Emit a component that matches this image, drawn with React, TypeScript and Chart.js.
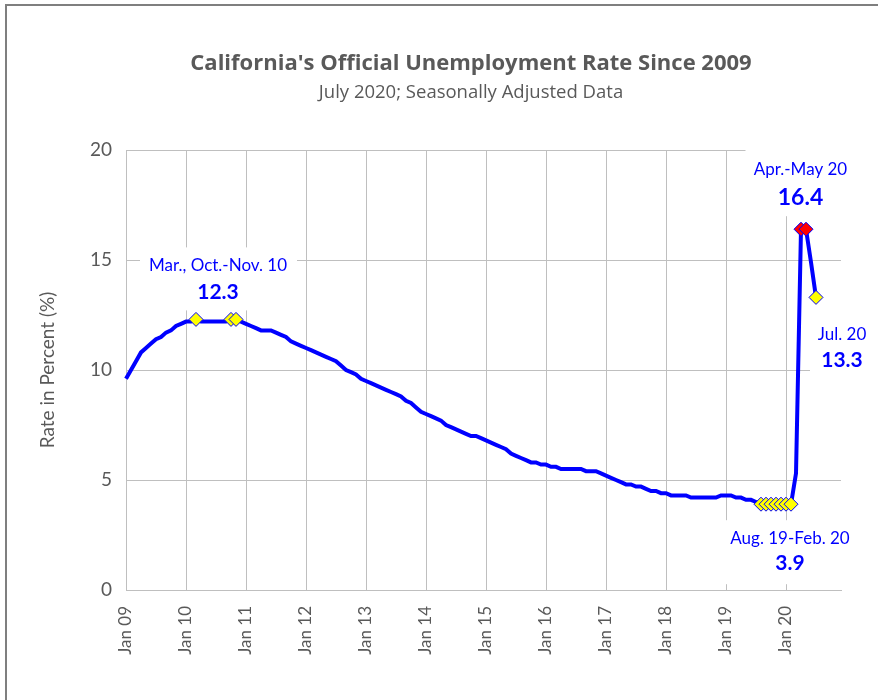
import { useEffect, useRef } from 'react';
import { Chart, registerables } from 'chart.js';

Chart.register(...registerables);

// ---------- DATA ----------
const monthNames = ['Jan', 'Feb', 'Mar', 'Apr', 'May', 'Jun', 'Jul', 'Aug', 'Sep', 'Oct', 'Nov', 'Dec'];
const yearSuffixes = ['09', '10', '11', '12', '13', '14', '15', '16', '17', '18', '19', '20'];

const rate2009 = [9.6, 10.0, 10.4, 10.8, 11.0, 11.2, 11.4, 11.5, 11.7, 11.8, 12.0, 12.1];
const rate2010 = [12.2, 12.2, 12.3, 12.2, 12.2, 12.2, 12.2, 12.2, 12.2, 12.3, 12.3, 12.2];
const rate2011 = [12.1, 12.0, 11.9, 11.8, 11.8, 11.8, 11.7, 11.6, 11.5, 11.3, 11.2, 11.1];
const rate2012 = [11.0, 10.9, 10.8, 10.7, 10.6, 10.5, 10.4, 10.2, 10.0, 9.9, 9.8, 9.6];
const rate2013 = [9.5, 9.4, 9.3, 9.2, 9.1, 9.0, 8.9, 8.8, 8.6, 8.5, 8.3, 8.1];
const rate2014 = [8.0, 7.9, 7.8, 7.7, 7.5, 7.4, 7.3, 7.2, 7.1, 7.0, 7.0, 6.9];
const rate2015 = [6.8, 6.7, 6.6, 6.5, 6.4, 6.2, 6.1, 6.0, 5.9, 5.8, 5.8, 5.7];
const rate2016 = [5.7, 5.6, 5.6, 5.5, 5.5, 5.5, 5.5, 5.5, 5.4, 5.4, 5.4, 5.3];
const rate2017 = [5.2, 5.1, 5.0, 4.9, 4.8, 4.8, 4.7, 4.7, 4.6, 4.5, 4.5, 4.4];
const rate2018 = [4.4, 4.3, 4.3, 4.3, 4.3, 4.2, 4.2, 4.2, 4.2, 4.2, 4.2, 4.3];
const rate2019 = [4.3, 4.3, 4.2, 4.2, 4.1, 4.1, 4.0, 3.9, 3.9, 3.9, 3.9, 3.9];
const rate2020 = [3.9, 3.9, 5.3, 16.4, 16.4, 14.9, 13.3, null, null, null, null, null];

const yTicks = [0, 5, 10, 15, 20];

// highlighted months (index into the monthly series) and their fill
const yellowMarkers = [14, 21, 22, 127, 128, 129, 130, 131, 132, 133, 138];
const redMarkers = [135, 136];

// annotation texts
const noteTexts = ['Mar., Oct.-Nov. 10', 'Apr.-May 20', 'Jul. 20', 'Aug. 19-Feb. 20'];
const noteValues = ['12.3', '16.4', '13.3', '3.9'];
const noteAnchorMonths = [18, 135.5, 138, 130];
const noteAnchorValues = [12.3, 16.4, 13.3, 3.9];

// ---------- STYLE / LAYOUT ----------
const FONT = 'Lato, "Open Sans", sans-serif';
const TITLE_FONT = '"Open Sans", Lato, sans-serif';
const GREY_TEXT = '#595959';
const GRID = '#bfbfbf';
const BLUE = '#0000ff';

// per note: text dx, line1 dy, line2 dy, value font size, box [x0,x1,y0,y1] relative to anchor
const noteLayout = [
  { dx: 2, dy1: -54, dy2: -27, size: 21, box: [-76, 81, -72, -9] },
  { dx: -3, dy1: -60, dy2: -32, size: 23, box: [-58, 60, -90, -13] },
  { dx: 26, dy1: 37, dy2: 63, size: 21, box: [-6, 62, 21, 81] },
  { dx: 14, dy1: 34, dy2: 59, size: 21, box: [-56, 84, 16, 80] },
];

const categories: string[] = [];
yearSuffixes.forEach((y) => monthNames.forEach((m) => categories.push(`${m} ${y}`)));
const rates = [
  ...rate2009, ...rate2010, ...rate2011, ...rate2012, ...rate2013, ...rate2014,
  ...rate2015, ...rate2016, ...rate2017, ...rate2018, ...rate2019, ...rate2020,
];

const overlayPlugin = {
  id: 'overlay',
  beforeDraw(chart: any) {
    const ctx = chart.ctx;
    ctx.save();
    ctx.fillStyle = '#ffffff';
    ctx.fillRect(0, 0, chart.width, chart.height);
    ctx.strokeStyle = '#7f7f7f';
    ctx.lineWidth = 2;
    ctx.strokeRect(6, 5, chart.width + 40, chart.height + 40);

    ctx.fillStyle = GREY_TEXT;
    ctx.textAlign = 'center';
    ctx.textBaseline = 'alphabetic';
    ctx.font = `bold 22px ${TITLE_FONT}`;
    ctx.fillText("California's Official Unemployment Rate Since 2009", 471, 70);
    ctx.font = `18.5px ${TITLE_FONT}`;
    ctx.fillText('July 2020; Seasonally Adjusted Data', 471, 98);

    ctx.translate(48, 370);
    ctx.rotate(-Math.PI / 2);
    ctx.textBaseline = 'middle';
    ctx.font = `19px ${FONT}`;
    ctx.fillText('Rate in Percent (%)', 0, 0);
    ctx.restore();
  },
  beforeDatasetsDraw(chart: any) {
    const ctx = chart.ctx;
    const xs = chart.scales.x;
    const ys = chart.scales.y;
    ctx.save();
    noteTexts.forEach((t, i) => {
      const L = noteLayout[i];
      const ax = xs.getPixelForValue(noteAnchorMonths[i]);
      const ay = ys.getPixelForValue(noteAnchorValues[i]);
      ctx.fillStyle = '#ffffff';
      ctx.fillRect(ax + L.box[0], ay + L.box[2], L.box[1] - L.box[0], L.box[3] - L.box[2]);
      ctx.fillStyle = BLUE;
      ctx.textAlign = 'center';
      ctx.textBaseline = 'middle';
      ctx.font = `17px ${FONT}`;
      ctx.fillText(t, ax + L.dx, ay + L.dy1);
      ctx.font = `bold ${L.size}px ${FONT}`;
      ctx.fillText(noteValues[i], ax + L.dx, ay + L.dy2);
    });
    ctx.restore();
  },
};

export default function App() {
  const canvasRef = useRef<HTMLCanvasElement | null>(null);

  useEffect(() => {
    document.body.style.margin = '0';
    document.body.style.overflow = 'hidden';
    const canvas = canvasRef.current;
    if (!canvas) return;

    const radii = rates.map((_, i) => (yellowMarkers.includes(i) || redMarkers.includes(i) ? 7 : 0));
    const fills = rates.map((_, i) => (redMarkers.includes(i) ? '#ff0000' : '#ffff00'));

    const chart = new Chart(canvas, {
      type: 'line',
      data: {
        labels: categories,
        datasets: [
          {
            data: rates as any,
            borderColor: BLUE,
            borderWidth: 4,
            pointStyle: 'rectRot',
            pointRadius: radii,
            pointHoverRadius: radii,
            pointBackgroundColor: fills,
            pointBorderColor: BLUE,
            pointBorderWidth: 1,
            tension: 0,
            spanGaps: false,
          },
        ],
      },
      options: {
        animation: false,
        responsive: true,
        maintainAspectRatio: false,
        layout: { padding: { top: 150, right: 37, left: 0, bottom: 0 } },
        plugins: {
          legend: { display: false },
          tooltip: { enabled: false },
          title: { display: false },
        },
        scales: {
          x: {
            type: 'category',
            offset: false,
            afterFit: (s: any) => {
              s.height = 110;
            },
            border: { display: true, color: GRID, width: 1 },
            grid: {
              drawTicks: false,
              lineWidth: 1,
              color: (c: any) => (c.index % 12 === 0 ? GRID : 'rgba(0,0,0,0)'),
            },
            ticks: {
              autoSkip: false,
              maxRotation: 90,
              minRotation: 90,
              padding: 16,
              color: GREY_TEXT,
              font: { family: FONT, size: 17 },
              callback: (_v: any, i: number) => (i % 12 === 0 ? categories[i] : ''),
            },
          },
          y: {
            min: yTicks[0],
            max: yTicks[yTicks.length - 1],
            afterFit: (s: any) => {
              s.width = 126;
            },
            border: { display: true, color: GRID, width: 1 },
            grid: { drawTicks: false, color: GRID, lineWidth: 1 },
            ticks: {
              stepSize: 5,
              padding: 14,
              color: GREY_TEXT,
              font: { family: FONT, size: 19 },
            },
          },
        },
      },
      plugins: [overlayPlugin],
    });

    return () => chart.destroy();
  }, []);

  return (
    <div style={{ width: 878, height: 700, position: 'relative' }}>
      <canvas ref={canvasRef} />
    </div>
  );
}
